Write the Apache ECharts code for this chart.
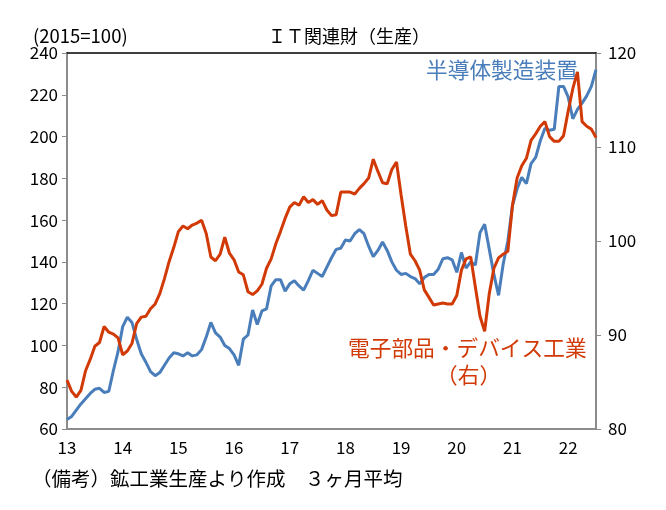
<!DOCTYPE html>
<html>
<head>
<meta charset="utf-8">
<title>IT関連財（生産）</title>
<script src="https://cdn.jsdelivr.net/npm/echarts@6/dist/echarts.min.js"></script>
<style>
    html,body{margin:0;padding:0;background:#fff;}
    #chart{width:666px;height:510px;}
</style>
</head>
<body>
<div id="chart"></div>
<script>
// 年ラベル（1月の位置に表示）
var years = ['13','14','15','16','17','18','19','20','21','22'];
var lastMonth = 7; // 2022年7月まで

// 半導体製造装置（左軸, 2015=100）
var semiEquip = [
    64.5, 66, 69, 72, 74.5, 77, 79, 79.5, 77.5, 78, 88, 97,
    109, 113.5, 111, 103, 96, 92, 87.5, 85.5, 87, 90.5, 94, 96.5,
    96, 95, 96.5, 95, 95.5, 98, 104, 111, 106, 104, 100, 98.5,
    95.5, 90.5, 103, 105, 117, 110, 116.5, 117.5, 128.5, 131.5, 131.5, 126,
    129.5, 131, 128.5, 126.5, 131, 136, 134.5, 133, 137.5, 142, 146, 146.5,
    150.5, 150, 153.5, 155.5, 153.5, 147.5, 142.5, 145.5, 149.5, 145.5, 140, 136,
    134, 134.5, 133, 132, 129.5, 132.5, 134, 134, 136.5, 141.5, 142, 141,
    135, 144.5, 137, 140, 138.5, 154, 158, 146, 134, 124, 139, 150,
    167, 175, 180.5, 177.5, 187, 190, 198, 204, 203, 203.5, 224, 224,
    219, 208.5, 213, 216, 219.5, 224, 232
];

// 電子部品・デバイス工業（右軸）
var elecParts = [
    85.2, 84.0, 83.4, 84.1, 86.2, 87.4, 88.8, 89.2, 90.9, 90.3, 90.1, 89.7,
    87.9, 88.3, 89.1, 91.2, 91.9, 92.0, 92.8, 93.3, 94.4, 96.0, 97.8, 99.3,
    101.0, 101.6, 101.3, 101.7, 101.9, 102.2, 100.8, 98.3, 97.9, 98.6, 100.4, 98.7,
    98.0, 96.7, 96.4, 94.6, 94.3, 94.7, 95.4, 97.1, 98.1, 99.7, 101.0, 102.4,
    103.6, 104.1, 103.8, 104.7, 104.1, 104.4, 103.9, 104.3, 103.3, 102.7, 102.8, 105.2,
    105.2, 105.2, 105.0, 105.6, 106.1, 106.7, 108.7, 107.4, 106.2, 106.1, 107.6, 108.4,
    104.9, 101.6, 98.6, 97.9, 96.9, 94.8, 94.0, 93.2, 93.3, 93.4, 93.3, 93.3,
    94.2, 96.9, 98.1, 98.3, 95.1, 92.0, 90.4, 94.4, 97.1, 98.2, 98.6, 98.9,
    103.8, 106.7, 108.0, 108.8, 110.7, 111.4, 112.2, 112.7, 111.1, 110.6, 110.6, 111.2,
    113.8, 116.2, 118.0, 112.7, 112.2, 111.9, 111.0
];

// 月次カテゴリ
var months = [];
years.forEach(function(y, idx){
    var n = (idx == years.length - 1) ? lastMonth : 12;
    for (var m = 1; m <= n; m++) {
        months.push(y + '/' + m);
    }
});

var BLUE = '#4a7ebb';
var RED = '#d13a06';
var AXIS_GREY = '#8c8c8c';
var FONT = '"Noto Sans CJK JP", "Noto Sans", sans-serif';

var chart = echarts.init(document.getElementById('chart'));
chart.setOption({
    animation: false,
    backgroundColor: '#fff',
    textStyle: { fontFamily: FONT },
    grid: { left: 67, right: 70, top: 53, bottom: 81 },
    xAxis: [
        {
            type: 'category',
            data: months,
            boundaryGap: false,
            axisLine: { lineStyle: { color: AXIS_GREY, width: 2 } },
            axisTick: { show: false },
            axisLabel: {
                interval: function(i){ return i % 12 === 0; },
                formatter: function(v){ return v.split('/')[0]; },
                color: '#000',
                fontSize: 17,
                fontFamily: FONT,
                margin: 10
            },
            splitLine: { show: false }
        },
        {
            // 上枠線
            type: 'category',
            data: months,
            boundaryGap: false,
            position: 'top',
            axisLine: { lineStyle: { color: '#000', width: 1.5 } },
            axisTick: { show: false },
            axisLabel: { show: false },
            splitLine: { show: false }
        }
    ],
    yAxis: [
        {
            type: 'value',
            min: 60, max: 240, interval: 20,
            axisLine: { show: true, lineStyle: { color: AXIS_GREY, width: 2 } },
            axisTick: { show: true, length: 5, lineStyle: { color: AXIS_GREY } },
            axisLabel: { color: '#000', fontSize: 17, fontFamily: FONT, margin: 9 },
            splitLine: { show: false }
        },
        {
            type: 'value',
            min: 80, max: 120, interval: 10,
            position: 'right',
            axisLine: { show: true, lineStyle: { color: AXIS_GREY, width: 2 } },
            axisTick: { show: true, length: 5, lineStyle: { color: AXIS_GREY } },
            axisLabel: { color: '#000', fontSize: 17, fontFamily: FONT, margin: 12 },
            splitLine: { show: false }
        }
    ],
    series: [
        {
            name: '半導体製造装置',
            type: 'line',
            yAxisIndex: 0,
            data: semiEquip,
            symbol: 'none',
            lineStyle: { color: BLUE, width: 3 },
            z: 2
        },
        {
            name: '電子部品・デバイス工業（右）',
            type: 'line',
            yAxisIndex: 1,
            data: elecParts,
            symbol: 'none',
            lineStyle: { color: RED, width: 3 },
            z: 3
        }
    ],
    graphic: [
        { type: 'text', left: 33, top: 27, style: { text: '(2015=100)', fill: '#000', font: '18.5px ' + FONT } },
        { type: 'text', left: 268, top: 27, style: { text: 'ＩＴ関連財（生産）', fill: '#000', font: '18px ' + FONT } },
        { type: 'text', left: 426, top: 59, style: { text: '半導体製造装置', fill: BLUE, font: '21.7px ' + FONT } },
        { type: 'text', left: 348, top: 337, style: { text: '電子部品・デバイス工業', fill: RED, font: '21.7px ' + FONT } },
        { type: 'text', left: 436, top: 364, style: { text: '（右）', fill: RED, font: '21.7px ' + FONT } },
        { type: 'text', left: 32, top: 469, style: { text: '（備考）鉱工業生産より作成　３ヶ月平均', fill: '#000', font: '19.5px ' + FONT } }
    ]
});
</script>
</body>
</html>
